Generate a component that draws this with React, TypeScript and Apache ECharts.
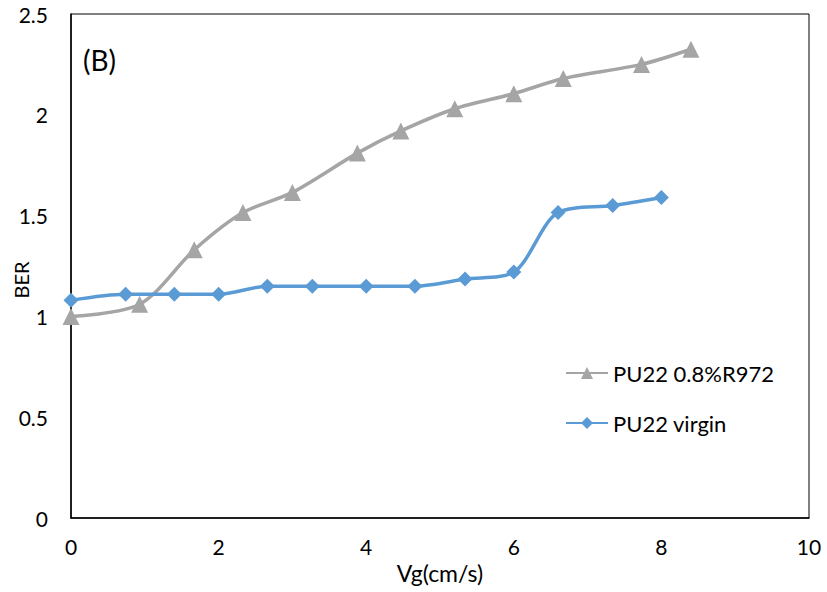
import React, { useEffect, useRef } from "react";
import * as echarts from "echarts";

const treatedX = [0, 0.93, 1.67, 2.33, 3.0, 3.88, 4.47, 5.2, 6.0, 6.67, 7.73, 8.4];
const treatedY = [1.0, 1.06, 1.33, 1.515, 1.615, 1.81, 1.92, 2.03, 2.105, 2.18, 2.25, 2.325];
const virginX = [0, 0.74, 1.4, 2.0, 2.66, 3.27, 4.0, 4.66, 5.34, 6.0, 6.6, 7.34, 8.0];
const virginY = [1.08, 1.11, 1.11, 1.11, 1.15, 1.15, 1.15, 1.15, 1.185, 1.22, 1.515, 1.55, 1.59];
const seriesNames = ["PU22 0.8%R972", "PU22 virgin"];
const panelLabel = "(B)";
const yTitle = "BER";

const FONT = "Lato, 'Open Sans', sans-serif";

export default function App() {
  const ref = useRef<HTMLDivElement>(null);
  useEffect(() => {
    if (!ref.current) return;
    const chart = echarts.init(ref.current, undefined, { renderer: "svg" });
    const zip = (xs: number[], ys: number[]) => xs.map((x, i) => [x, ys[i]]);
    chart.setOption({
      animation: false,
      backgroundColor: "#fff",
      textStyle: { fontFamily: FONT },
      grid: {
        left: 71,
        right: 18,
        top: 14,
        bottom: 74,
        show: true,
        borderColor: "#000",
        borderWidth: 1,
        containLabel: false,
        outerBoundsMode: "none",
      },
      xAxis: {
        type: "value",
        min: 0,
        max: 10,
        interval: 2,
        name: "Vg(cm/s)",
        nameLocation: "middle",
        nameGap: 43,
        nameMoveOverlap: false,
        nameTextStyle: { fontSize: 23, color: "#000", fontFamily: FONT },
        axisLine: { show: true, lineStyle: { color: "#000", width: 1.5 } },
        axisTick: { show: false },
        splitLine: { show: false },
        axisLabel: { fontSize: 21, color: "#000", margin: 18, fontFamily: FONT },
      },
      yAxis: {
        type: "value",
        min: 0,
        max: 2.5,
        interval: 0.5,
        axisLine: { show: true, lineStyle: { color: "#000", width: 1.5 } },
        axisTick: { show: false },
        splitLine: { show: false },
        axisLabel: { fontSize: 21, color: "#000", margin: 23, fontFamily: FONT },
      },
      legend: {
        orient: "vertical",
        left: 560,
        top: 357,
        itemGap: 28,
        itemWidth: 42,
        itemHeight: 15,
        textStyle: { fontSize: 22, color: "#000", fontFamily: FONT },
        data: seriesNames,
      },
      graphic: [
        {
          type: "text",
          left: 83,
          top: 46,
          style: { text: panelLabel, fontSize: 28, fill: "#000", fontFamily: FONT },
        },
        {
          type: "text",
          x: 21,
          y: 280,
          rotation: Math.PI / 2,
          style: {
            text: yTitle,
            fontSize: 20,
            fill: "#000",
            fontFamily: FONT,
            align: "center",
            verticalAlign: "middle",
          },
        },
      ],
      series: [
        {
          name: seriesNames[0],
          type: "line",
          data: zip(treatedX, treatedY),
          smooth: 0.3,
          symbol: "triangle",
          symbolSize: 17,
          color: "#A5A5A5",
          lineStyle: { width: 3.5, color: "#A5A5A5" },
          itemStyle: { color: "#A5A5A5" },
        },
        {
          name: seriesNames[1],
          type: "line",
          data: zip(virginX, virginY),
          smooth: 0.3,
          symbol: "diamond",
          symbolSize: 15,
          color: "#5B9BD5",
          lineStyle: { width: 3.5, color: "#5B9BD5" },
          itemStyle: { color: "#5B9BD5" },
        },
      ],
    });
    return () => chart.dispose();
  }, []);
  return (
    <div
      ref={ref}
      style={{ position: "fixed", left: 0, top: 0, width: 827, height: 592, background: "#fff" }}
    />
  );
}
